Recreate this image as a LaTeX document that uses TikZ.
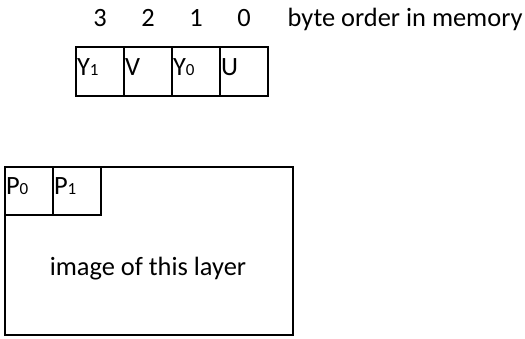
\documentclass[tikz,border=0pt]{standalone}
\usepackage{fontspec}
\setmainfont{Carlito}
\newcommand{\indice}[1]{{\fontsize{17}{17}\selectfont #1}}
\begin{document}
\begin{tikzpicture}[x=1pt, y=-1pt, line width=1.4pt,
    font=\fontsize{26.4}{30}\selectfont,
    cell/.style={draw, minimum width=48pt, minimum height=48pt, inner sep=0pt},
    celltext/.style={anchor=base west, inner sep=0pt}]
\useasboundingbox (0,0) rectangle (525,338);

% ── Orden de bytes en memoria ─────────────────────────────────
\node[anchor=base, inner sep=0pt] (n3) at (100, 26) {3};
\node[anchor=base, inner sep=0pt] (n2) at (148, 26) {2};
\node[anchor=base, inner sep=0pt] (n1) at (196, 26) {1};
\node[anchor=base, inner sep=0pt] (n0) at (244, 26) {0};
\node[anchor=base west, inner sep=0pt] (orden) at (287, 26)
    {byte order in memory};

% ── Palabra de 32 bits: Y1 V Y0 U ─────────────────────────────
\node[cell, minimum height=49pt] (c3) at (100, 71.5) {};
\node[cell, minimum height=49pt] (c2) at (148, 71.5) {};
\node[cell, minimum height=49pt] (c1) at (196, 71.5) {};
\node[cell, minimum height=49pt] (c0) at (244, 71.5) {};
\node[celltext] (y1) at ([xshift=1pt, yshift=-29pt]c3.north west)
    {Y\indice{1}};
\node[celltext] (v)  at ([xshift=1pt, yshift=-29pt]c2.north west) {V};
\node[celltext] (y0) at ([xshift=1pt, yshift=-29pt]c1.north west)
    {Y\indice{0}};
\node[celltext] (u)  at ([xshift=1pt, yshift=-29pt]c0.north west) {U};

% ── Imagen de la capa ─────────────────────────────────────────
\node[draw, minimum width=288pt, minimum height=168pt, inner sep=0pt]
    (capa) at (149, 251) {};
\node[cell] (p0) at (29, 191) {};
\node[cell] (p1) at (77, 191) {};
\node[celltext] (tp0) at ([xshift=1pt, yshift=-28pt]p0.north west)
    {P\indice{0}};
\node[celltext] (tp1) at ([xshift=1pt, yshift=-28pt]p1.north west)
    {P\indice{1}};
\node[anchor=base, inner sep=0pt] (texto) at (148, 275)
    {image of this layer};

\end{tikzpicture}
\end{document}
